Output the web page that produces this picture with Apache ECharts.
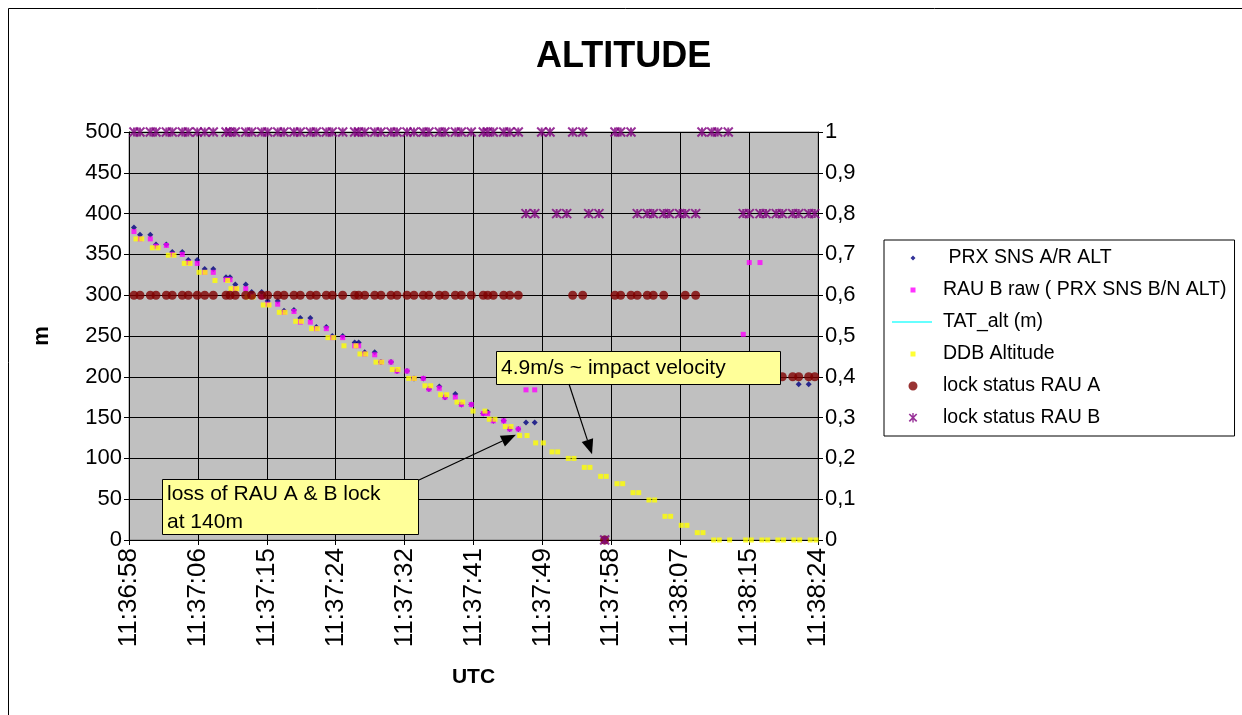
<!DOCTYPE html>
<html>
<head>
<meta charset="utf-8">
<script src="https://cdn.jsdelivr.net/npm/echarts@6/dist/echarts.min.js"></script>
<style>
  html, body { margin: 0; padding: 0; background: #fff; }
  #chart { width: 1242px; height: 715px; }
</style>
</head>
<body>
<div id="chart"></div>
<script>
// Time axis: seconds elapsed since 11:36:57.8 UTC, one major tick every 8.6 s
const tickStep = 8.6;
const timeLabels = ['11:36:58', '11:37:06', '11:37:15', '11:37:24', '11:37:32', '11:37:41',
                    '11:37:49', '11:37:58', '11:38:07', '11:38:15', '11:38:24'];

// Radar altimeter samples (seconds since axis start)
const rauT = [0.62, 1.37, 2.66, 3.37, 4.66, 5.40, 6.65, 7.40, 8.52, 9.45,
              10.52, 12.11, 12.61, 13.27, 14.57, 15.31, 16.56, 17.31, 18.56, 19.35,
              20.59, 21.38, 22.63, 23.38, 24.63, 25.37, 26.67, 28.17, 28.67, 29.42,
              30.67, 31.45, 32.70, 33.45, 34.70, 35.57, 36.73, 37.44, 38.73, 39.44,
              40.73, 41.48, 42.72, 44.22, 44.77, 45.47, 46.77, 47.52, 48.59,
              49.55, 50.64, 51.51, 52.55, 53.38, 54.63, 55.38, 56.63, 57.38, 58.66,
              59.37, 60.66, 61.37, 62.66, 63.44, 64.69, 65.44, 66.74, 67.44, 68.73,
              69.43, 70.73, 71.52, 72.73, 73.48, 74.80, 76.67, 77.42, 78.76, 79.51,
              80.79, 81.54, 82.84, 83.59, 84.84, 85.59];

// PRX SNS A/R ALT (m)
const prxAlt = [383, 374, 374, 362, 362, 353, 353, 343, 343, 332,
                332, 322, 322, 313, 313, 304, 304, 293, 293, 281,
                282, 272, 272, 261, 261, 250, 250, 242, 242, 230,
                230, 218, 218, 207, 207, 198, 198, 185, 188, 175,
                179, 166, 166, 155, 157, 146, 146, 136, 136,
                144, 144, null, null, null, null, null, null, null, null,
                null, null, null, null, null, null, null, null, null, null,
                null, null, null, null, null, null, null, null, null, null,
                null, null, null, 191, 191, null];

// RAU B raw (PRX SNS B/N ALT) (m)
const rauBAlt = [378, 369, 369, 360, 361, 350, 350, 340, 339, 328,
                 328, 319, 319, 308, 308, 299, 298, 289, 289, 279,
                 280, 267, 267, 259, 259, 248, 248, 238, 238, 228,
                 227, 218, 218, 207, 207, 198, 198, 185, 186, 175,
                 175, 166, 166, 155, 155, 146, 146, 136, 136,
                 184, 184, null, null, null, null, null, null, null, null,
                 null, null, null, null, null, null, null, null, null, null,
                 null, null, null, null, null, null, 252, 340, 340, null,
                 null, null, null, null, null, null];

// Lock status flags (secondary axis)
const lockA = [0.6, 0.6, 0.6, 0.6, 0.6, 0.6, 0.6, 0.6, 0.6, 0.6,
               0.6, 0.6, 0.6, 0.6, 0.6, 0.6, 0.6, 0.6, 0.6, 0.6,
               0.6, 0.6, 0.6, 0.6, 0.6, 0.6, 0.6, 0.6, 0.6, 0.6,
               0.6, 0.6, 0.6, 0.6, 0.6, 0.6, 0.6, 0.6, 0.6, 0.6,
               0.6, 0.6, 0.6, 0.6, 0.6, 0.6, 0.6, 0.6, 0.6,
               null, null, null, null, null, null, 0.6, 0.6, null, null,
               0, 0.6, 0.6, 0.6, 0.6, 0.6, 0.6, 0.6, null, null,
               0.6, 0.6, null, null, null, null, null, null, null, null,
               null, 0.4, 0.4, 0.4, 0.4, 0.4];

const lockB = [1, 1, 1, 1, 1, 1, 1, 1, 1, 1,
               1, 1, 1, 1, 1, 1, 1, 1, 1, 1,
               1, 1, 1, 1, 1, 1, 1, 1, 1, 1,
               1, 1, 1, 1, 1, 1, 1, 1, 1, 1,
               1, 1, 1, 1, 1, 1, 1, 1, 1,
               0.8, 0.8, 1, 1, 0.8, 0.8, 1, 1, 0.8, 0.8,
               0, 1, 1, 1, 0.8, 0.8, 0.8, 0.8, 0.8, 0.8,
               0.8, 0.8, 1, 1, 1, 1, 0.8, 0.8, 0.8, 0.8,
               0.8, 0.8, 0.8, 0.8, 0.8, 0.8];

// DDB altitude (m), its own sample times
const ddbT = [0.87, 1.59, 2.91, 3.62, 4.91, 5.62, 6.90, 7.61, 8.74, 9.49,
              10.73, 12.32, 12.73, 13.44, 14.73, 15.48, 16.76, 17.47, 18.76, 19.47,
              20.81, 21.51, 22.80, 23.50, 24.84, 25.55, 26.83, 28.33, 28.83, 29.54,
              30.83, 31.54, 32.86, 33.57, 34.91, 35.61, 36.94, 37.66, 38.90, 39.65,
              40.94, 41.65, 42.94, 44.43, 44.97, 45.68, 46.97, 47.68, 48.76, 49.68,
              50.76, 51.71, 52.80, 53.51, 54.83, 55.54, 56.83, 57.54, 58.87, 59.57,
              60.91, 61.62, 62.91, 63.62, 64.90, 65.61, 66.90, 67.61, 68.93, 69.64,
              70.93, 71.64, 72.98, 73.68, 74.97, 76.97, 77.67, 79.00, 79.72, 80.99,
              81.70, 82.99, 83.71, 85.03, 85.74];
const ddbAlt = [369, 369, 358, 358, 349, 349, 339, 339, 328, 328,
                318, 318, 308, 308, 298, 298, 288, 288, 279, 279,
                268, 268, 259, 259, 248, 248, 238, 238, 228, 228,
                218, 218, 209, 209, 198, 198, 189, 189, 178, 178,
                169, 169, 158, 158, 148, 148, 139, 139, 128, 128,
                119, 119, 108, 108, 100, 100, 89, 89, 78, 78,
                69, 69, 58, 58, 49, 49, 29, 29, 18, 18,
                9, 9, 0, 0, 0, 0, 0, 0, 0, 0,
                0, 0, 0, 0, 0];

// TAT_alt (m) carries no samples in this window
const tatAlt = [];

const FONT = '"Liberation Sans", Arial, Helvetica, sans-serif';

function pairs(ts, vs) {
  const out = [];
  for (let i = 0; i < ts.length; i++) {
    if (vs[i] !== null && vs[i] !== undefined) out.push([ts[i], vs[i]]);
  }
  return out;
}

// Legend icons live in a 40x12 box; two degenerate corner segments pin the
// bounding box so the glyph keeps its own size instead of being stretched.
const ICON_FRAME = 'M0,0L0.01,0M40,12L39.99,12';
const icon = body => 'path://' + ICON_FRAME + body;

const ICON_DIAMOND = icon('M21,3.5L23.5,6L21,8.5L18.5,6Z');
const ICON_SQUARE = icon('M18.5,3.5L23.5,3.5L23.5,8.5L18.5,8.5Z');
const ICON_LINE = icon('M0,5.2L40,5.2L40,6.8L0,6.8Z');
const ICON_CIRCLE = icon('M21,1.5A4.5,4.5,0,1,1,20.99,1.5Z');
const ICON_STAR = icon('M16.7,2.6L17.9,1.4L25.3,8.8L24.1,10.0Z' +
                       'M24.1,1.4L25.3,2.6L17.9,10.0L16.7,8.8Z' +
                       'M20.3,1.0L21.7,1.0L21.7,10.6L20.3,10.6Z');

const chart = echarts.init(document.getElementById('chart'), null, { renderer: 'canvas' });

const option = {
  animation: false,
  backgroundColor: '#ffffff',
  title: {
    text: 'ALTITUDE',
    left: 531,
    top: 34,
    textStyle: { fontFamily: FONT, fontSize: 36, fontWeight: 'bold', color: '#000' }
  },
  grid: {
    left: 129, right: 424, top: 132, bottom: 175,
    show: true, backgroundColor: '#C0C0C0', borderColor: '#808080', borderWidth: 1
  },
  legend: {
    orient: 'vertical',
    left: 884, top: 240,
    padding: [8, 8, 8, 8],
    itemWidth: 40, itemHeight: 12, itemGap: 12,
    symbolKeepAspect: false,
    backgroundColor: '#ffffff', borderColor: '#000', borderWidth: 1, borderRadius: 0,
    textStyle: { fontFamily: FONT, fontSize: 19.5, color: '#000', lineHeight: 20, padding: [0, 0, 0, 6] },
    selectedMode: false,
    data: [
      { name: ' PRX SNS A/R ALT', icon: ICON_DIAMOND, itemStyle: { color: '#000080', borderWidth: 0 } },
      { name: 'RAU B raw ( PRX SNS B/N ALT)', icon: ICON_SQUARE, itemStyle: { color: '#FF00FF', borderWidth: 0 } },
      { name: 'TAT_alt (m)', icon: ICON_LINE, itemStyle: { color: '#00FFFF', borderWidth: 0 } },
      { name: 'DDB Altitude', icon: ICON_SQUARE, itemStyle: { color: '#FFFF00', borderWidth: 0 } },
      { name: 'lock status RAU A', icon: ICON_CIRCLE, itemStyle: { color: '#800000', borderWidth: 0 } },
      { name: 'lock status RAU B', icon: ICON_STAR, itemStyle: { color: '#800080', borderWidth: 0 } }
    ]
  },
  xAxis: {
    type: 'value', min: 0, max: 86, interval: tickStep,
    axisLine: { show: true, lineStyle: { color: '#000', width: 1 } },
    axisTick: { show: true, inside: false, length: 5, lineStyle: { color: '#000' } },
    axisLabel: {
      rotate: 90, margin: 8, fontFamily: FONT, fontSize: 26, color: '#000',
      formatter: v => timeLabels[Math.round(v / tickStep)] || ''
    },
    splitLine: { show: true, lineStyle: { color: '#000', width: 1 } },
    name: 'UTC', nameLocation: 'middle', nameGap: 127,
    nameTextStyle: { fontFamily: FONT, fontSize: 21, fontWeight: 'bold', color: '#000' }
  },
  yAxis: [
    {
      type: 'value', min: 0, max: 500, interval: 50,
      axisLine: { show: true, lineStyle: { color: '#000', width: 1 } },
      axisTick: { show: true, inside: false, length: 5, lineStyle: { color: '#000' } },
      axisLabel: { margin: 7, fontFamily: FONT, fontSize: 22, color: '#000' },
      splitLine: { show: true, lineStyle: { color: '#000', width: 1 } },
      name: 'm', nameLocation: 'middle', nameGap: 76, nameRotate: 90,
      nameTextStyle: { fontFamily: FONT, fontSize: 22, fontWeight: 'bold', color: '#000' }
    },
    {
      type: 'value', min: 0, max: 1, interval: 0.1, position: 'right',
      axisLine: { show: true, lineStyle: { color: '#000', width: 1 } },
      axisTick: { show: true, inside: false, length: 5, lineStyle: { color: '#000' } },
      axisLabel: {
        margin: 7, fontFamily: FONT, fontSize: 22, color: '#000',
        formatter: v => (Math.abs(v) < 1e-9 ? '0' : Math.abs(v - 1) < 1e-9 ? '1' : v.toFixed(1).replace('.', ','))
      },
      splitLine: { show: false }
    }
  ],
  series: [
    {
      name: ' PRX SNS A/R ALT', type: 'scatter', yAxisIndex: 0,
      symbol: 'diamond', symbolSize: 6,
      itemStyle: { color: '#000080' },
      data: pairs(rauT, prxAlt)
    },
    {
      name: 'RAU B raw ( PRX SNS B/N ALT)', type: 'scatter', yAxisIndex: 0,
      symbol: 'rect', symbolSize: 5,
      itemStyle: { color: '#FF00FF' },
      data: pairs(rauT, rauBAlt)
    },
    {
      name: 'TAT_alt (m)', type: 'scatter', yAxisIndex: 0,
      symbol: 'circle', symbolSize: 4,
      itemStyle: { color: '#00FFFF' },
      data: tatAlt
    },
    {
      name: 'DDB Altitude', type: 'scatter', yAxisIndex: 0,
      symbol: 'rect', symbolSize: 5,
      itemStyle: { color: '#FFFF00' },
      data: pairs(ddbT, ddbAlt)
    },
    {
      name: 'lock status RAU A', type: 'scatter', yAxisIndex: 1,
      symbol: 'circle', symbolSize: 9,
      itemStyle: { color: '#800000' },
      data: pairs(rauT, lockA)
    },
    {
      name: 'lock status RAU B', type: 'scatter', yAxisIndex: 1,
      symbol: 'path://M0,0L10,10M10,0L0,10M5,0L5,10', symbolSize: 9,
      itemStyle: { color: '#800080', borderColor: '#800080', borderWidth: 2 },
      data: pairs(rauT, lockB)
    }
  ]
};

chart.setOption(option);

// Callouts with arrows pointing at data locations
function arrow(x1, y1, x2, y2) {
  const dx = x2 - x1, dy = y2 - y1, L = Math.hypot(dx, dy);
  const ux = dx / L, uy = dy / L, hl = 15, hw = 6;
  const bx = x2 - ux * hl, by = y2 - uy * hl;
  return [
    { type: 'line', z: 100, shape: { x1: x1, y1: y1, x2: bx, y2: by }, style: { stroke: '#000', lineWidth: 1.2 } },
    { type: 'polygon', z: 100, shape: { points: [[x2, y2], [bx - uy * hw, by + ux * hw], [bx + uy * hw, by - ux * hw]] }, style: { fill: '#000' } }
  ];
}

const tipLoss = chart.convertToPixel({ gridIndex: 0 }, [48.3, 129]);
const tipImpact = chart.convertToPixel({ gridIndex: 0 }, [57.8, 105]);

const graphics = [
  { type: 'rect', z: -10, silent: true, shape: { x: 8.5, y: 8.5, width: 1240, height: 712 },
    style: { fill: 'none', stroke: '#000', lineWidth: 1 } },
  { type: 'rect', z: 100, shape: { x: 162.5, y: 479.5, width: 256, height: 55 },
    style: { fill: '#FFFF99', stroke: '#000', lineWidth: 1 } },
  { type: 'text', z: 101, left: 167, top: 480,
    style: { text: 'loss of RAU A & B lock\nat 140m', font: '21px ' + FONT, lineHeight: 28, fill: '#000' } },
  { type: 'rect', z: 100, shape: { x: 496.5, y: 351.5, width: 284, height: 33 },
    style: { fill: '#FFFF99', stroke: '#000', lineWidth: 1 } },
  { type: 'text', z: 101, left: 501, top: 354,
    style: { text: '4.9m/s ~ impact velocity', font: '21px ' + FONT, lineHeight: 28, fill: '#000' } }
].concat(arrow(419, 480, tipLoss[0], tipLoss[1]))
 .concat(arrow(569, 384, tipImpact[0], tipImpact[1]));

chart.setOption({ graphic: { elements: graphics } });
</script>
</body>
</html>
